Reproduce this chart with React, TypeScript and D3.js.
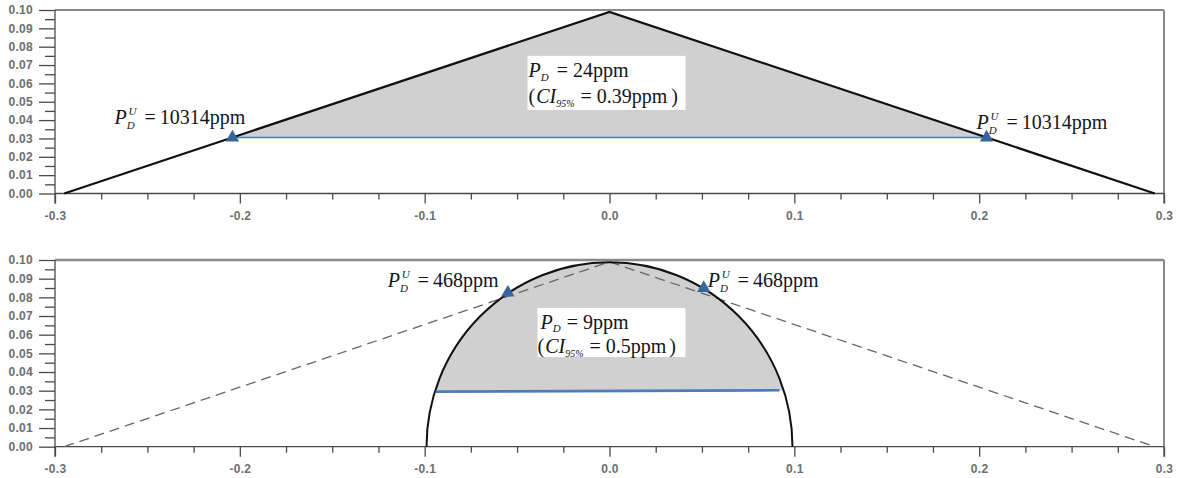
import React, { useEffect, useRef } from 'react';
import * as d3 from 'd3';

// axis ticks
const xMajor = [-0.3, -0.2, -0.1, 0, 0.1, 0.2, 0.3];
const yMajor = [0, 0.01, 0.02, 0.03, 0.04, 0.05, 0.06, 0.07, 0.08, 0.09, 0.1];

// triangular likelihood (top, repeated dashed in bottom)
const triangleX = [-0.295, 0, 0.295];
const triangleY = [0, 0.099, 0];

// top panel
const topShadeX = [-0.204, 0, 0.204];
const topShadeY = [0.0305, 0.099, 0.0305];
const topLimitX = [-0.204, 0.204];
const topLimitY = [0.0305, 0.0305];
const topPU = ['10314ppm', '10314ppm'];
const topPD = '24ppm';
const topCI = '0.39ppm';

// bottom panel (dome)
const domeHalfWidth = 0.099;
const domePeak = 0.0988;
const bottomLineX = [-0.094, 0.092];
const bottomLineY = [0.0295, 0.0302];
const bottomLimitX = [-0.055, 0.051];
const bottomLimitY = [0.0825, 0.085];
const bottomPU = ['468ppm', '468ppm'];
const bottomPD = '9ppm';
const bottomCI = '0.5ppm';

const W = 1179;
const H = 478;
const SERIF = 'Liberation Serif, Times New Roman, serif';
const SANS = 'Liberation Sans, Arial, sans-serif';

// [text, dx, baseline shift, size, italic]
type Part = [string, number, number, number, boolean];

function eq(g: any, ox: number, oy: number, parts: Part[]) {
  const t = g.append('text')
    .attr('x', ox)
    .attr('y', oy)
    .attr('font-family', SERIF)
    .attr('fill', '#141420');
  let shift = 0;
  parts.forEach(([s, dx, sh, size, it]) => {
    t.append('tspan')
      .attr('dx', dx)
      .attr('dy', sh - shift)
      .attr('font-size', size)
      .attr('font-style', it ? 'italic' : 'normal')
      .text(s);
    shift = sh;
  });
}

function puLabel(g: any, ox: number, oy: number, value: string) {
  eq(g, ox, oy, [
    ['P', 0, 0, 20, true],
    ['D', 0, 5, 11, true],
  ]);
  eq(g, ox + 14, oy - 9, [['U', 0, 0, 11, true]]);
  eq(g, ox + 30, oy, [
    ['=', 0, 0, 20, false],
    [value, 4, 0, 20, false],
  ]);
}

function App() {
  const ref = useRef<SVGSVGElement>(null);

  useEffect(() => {
    const svg = d3.select(ref.current);
    svg.selectAll('*').remove();

    const x = d3.scaleLinear().domain([-0.3, 0.3]).range([55, 1164]);
    const yTopPanel = d3.scaleLinear().domain([0, 0.1]).range([193.5, 10]);
    const yBotPanel = d3.scaleLinear().domain([0, 0.1]).range([446.7, 260]);

    const xMinor = d3.range(-12, 13).map(i => i * 0.025).filter((_, i) => i % 4 !== 0);
    const yMinor = d3.range(0, 10).map(i => 0.005 + i * 0.01);

    const drawAxes = (g: any, y: any, frameWidth: number) => {
      const y0 = y(0);
      const yT = y(0.1);

      g.append('line')
        .attr('x1', 55).attr('x2', 1164).attr('y1', yT).attr('y2', yT)
        .attr('stroke', '#8a8a8a').attr('stroke-width', frameWidth);
      g.append('line')
        .attr('x1', 1164).attr('x2', 1164).attr('y1', yT).attr('y2', y0 + 10)
        .attr('stroke', '#8a8a8a').attr('stroke-width', 2);

      const yAx = g.append('g').attr('transform', 'translate(55,0)');
      yAx.call(d3.axisLeft(y).tickValues(yMajor).tickSize(16).tickPadding(6)
        .tickFormat((d: any) => d.toFixed(2)));
      const yAxMinor = g.append('g').attr('transform', 'translate(55,0)');
      yAxMinor.call(d3.axisLeft(y).tickValues(yMinor).tickSize(10).tickFormat(() => ''));

      const xAx = g.append('g').attr('transform', `translate(0,${y0})`);
      xAx.call(d3.axisBottom(x).tickValues(xMajor).tickSize(10)
        .tickFormat((d: any) => d.toFixed(1)));
      const xAxMinor = g.append('g').attr('transform', `translate(0,${y0})`);
      xAxMinor.call(d3.axisBottom(x).tickValues(xMinor).tickSize(6).tickFormat(() => ''));

      [yAx, yAxMinor, xAx, xAxMinor].forEach(a => {
        a.select('.domain').remove();
        a.selectAll('line').attr('stroke', '#4a4a4a').attr('stroke-width', 1.3);
        a.attr('font-family', SANS).attr('font-size', 12).attr('font-weight', 'bold');
        a.selectAll('text').attr('fill', '#6e6e6e').attr('letter-spacing', 0.3);
      });
      xAx.selectAll('text').attr('y', 26).attr('dy', 0);

      g.append('line')
        .attr('x1', 55).attr('x2', 55).attr('y1', yT).attr('y2', y0 + 10)
        .attr('stroke', '#4a4a4a').attr('stroke-width', 1.3);
      g.append('line')
        .attr('x1', 55).attr('x2', 1164).attr('y1', y0).attr('y2', y0)
        .attr('stroke', '#4a4a4a').attr('stroke-width', 1.3);
    };

    const marker = d3.symbol().type(d3.symbolTriangle).size(78);

    // ---------- top panel ----------
    const top = svg.append('g');
    const yT = yTopPanel;

    top.append('path')
      .attr('d', d3.line<number>().x(d => x(d)).y((_, i) => yT(topShadeY[i]))(topShadeX) + 'Z')
      .attr('fill', '#d0d0d0');
    top.append('path')
      .attr('d', d3.line<number>().x(d => x(d)).y((_, i) => yT(topLimitY[i]))(topLimitX))
      .attr('fill', 'none').attr('stroke', '#4a7ebb').attr('stroke-width', 1.6);

    drawAxes(top, yT, 2);

    top.append('path')
      .attr('d', d3.line<number>().x(d => x(d)).y((_, i) => yT(triangleY[i]))(triangleX))
      .attr('fill', 'none').attr('stroke', '#111').attr('stroke-width', 2.2);

    topLimitX.forEach((v, i) => {
      top.append('path')
        .attr('d', marker())
        .attr('transform', `translate(${x(v)},${yT(topLimitY[i])})`)
        .attr('fill', '#38669c');
    });

    const topOffsets = [[-118, -14], [-10, -9]];
    topLimitX.forEach((v, i) => {
      const [dx, dy] = topOffsets[i];
      puLabel(top, x(v) + dx, yT(topLimitY[i]) + dy, topPU[i]);
    });

    const tbx = x(0) - 82;
    const tby = yT(0.075);
    top.append('rect').attr('x', tbx).attr('y', tby).attr('width', 158).attr('height', 54)
      .attr('fill', '#fff');
    eq(top, tbx + 1, tby + 21, [
      ['P', 0, 0, 20, true],
      ['D', 0, 4, 11, true],
      ['=', 8, 0, 20, false],
      [topPD, 5, 0, 20, false],
    ]);
    eq(top, tbx + 1, tby + 47, [
      ['(', 0, 0, 20, false],
      ['CI', 1, 0, 20, true],
      ['95%', 0, 4, 10, true],
      ['=', 6, 0, 20, false],
      [topCI, 5, 0, 20, false],
      [')', 4, 0, 20, false],
    ]);

    // ---------- bottom panel ----------
    const bot = svg.append('g');
    const yB = yBotPanel;
    const rx = x(domeHalfWidth) - x(0);
    const ry = yB(0) - yB(domePeak);

    // chord of the dome at the level of the limit line
    const chordY = d3.mean(bottomLineY) as number;
    const chordX = domeHalfWidth * Math.sqrt(1 - (chordY / domePeak) ** 2);
    bot.append('path')
      .attr('d', `M${x(-chordX)},${yB(bottomLineY[0])} A${rx},${ry} 0 0 1 ${x(chordX)},${yB(bottomLineY[1])} Z`)
      .attr('fill', '#d0d0d0');

    drawAxes(bot, yB, 2.6);

    bot.append('path')
      .attr('d', d3.line<number>().x(d => x(d)).y((_, i) => yB(triangleY[i]))(triangleX))
      .attr('fill', 'none').attr('stroke', '#666').attr('stroke-width', 1.3)
      .attr('stroke-dasharray', '10 6');

    bot.append('path')
      .attr('d', `M${x(-domeHalfWidth)},${yB(0)} A${rx},${ry} 0 0 1 ${x(domeHalfWidth)},${yB(0)}`)
      .attr('fill', 'none').attr('stroke', '#111').attr('stroke-width', 2);

    bot.append('path')
      .attr('d', d3.line<number>().x(d => x(d)).y((_, i) => yB(bottomLineY[i]))(bottomLineX))
      .attr('fill', 'none').attr('stroke', '#4a7ebb').attr('stroke-width', 2.6);

    bottomLimitX.forEach((v, i) => {
      bot.append('path')
        .attr('d', marker())
        .attr('transform', `translate(${x(v)},${yB(bottomLimitY[i])})`)
        .attr('fill', '#38669c');
    });

    const botOffsets = [[-120, -6], [4, -1]];
    bottomLimitX.forEach((v, i) => {
      const [dx, dy] = botOffsets[i];
      puLabel(bot, x(v) + dx, yB(bottomLimitY[i]) + dy, bottomPU[i]);
    });

    const bbx = x(0) - 72;
    const bby = yB(0.0743);
    bot.append('rect').attr('x', bbx).attr('y', bby).attr('width', 148).attr('height', 49)
      .attr('fill', '#fff');
    eq(bot, bbx + 3, bby + 21, [
      ['P', 0, 0, 20, true],
      ['D', 0, 3, 11, true],
      ['=', 6, 0, 20, false],
      [bottomPD, 5, 0, 20, false],
    ]);
    eq(bot, bbx, bby + 45, [
      ['(', 0, 0, 20, false],
      ['CI', 1, 0, 20, true],
      ['95%', 0, 4, 10, true],
      ['=', 6, 0, 20, false],
      [bottomCI, 5, 0, 20, false],
      [')', 3, 0, 20, false],
    ]);
  }, []);

  return (
    <svg
      ref={ref}
      width={W}
      height={H}
      style={{ position: 'absolute', left: 0, top: 0, background: '#fff' }}
    />
  );
}

export default App;
